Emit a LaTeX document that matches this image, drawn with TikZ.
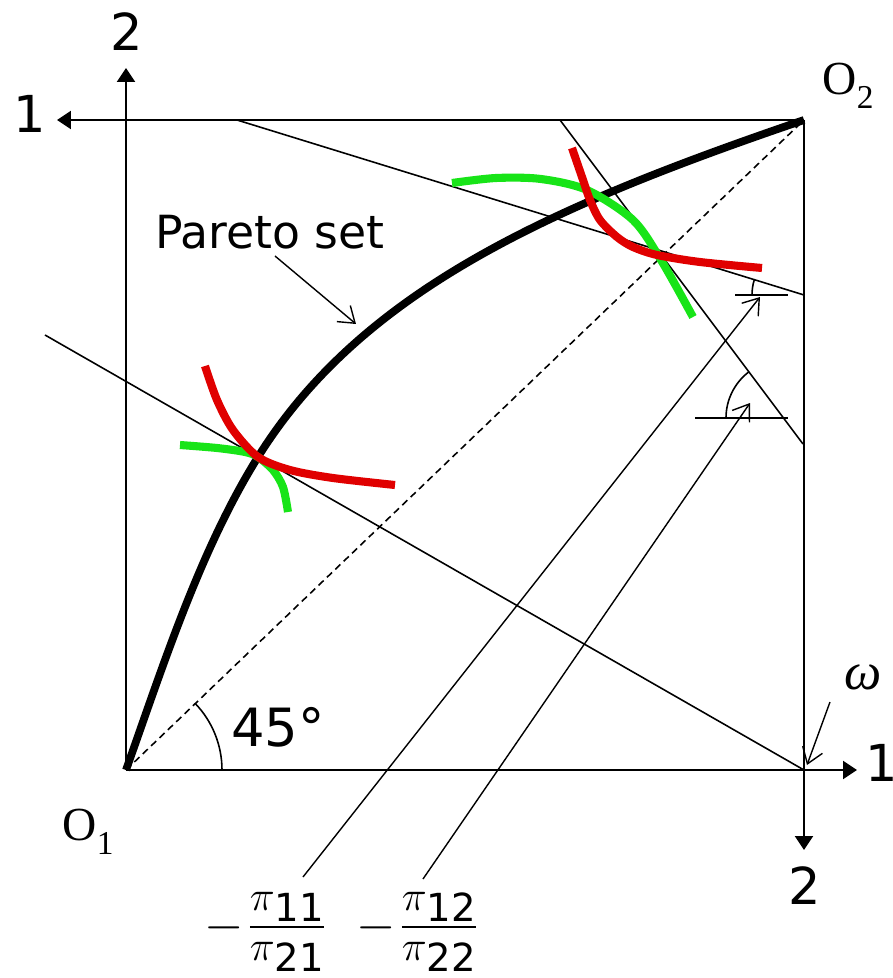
\documentclass[tikz,border=0pt]{standalone}
\usepackage{amsmath}
\usepackage{fontspec}
\setmainfont{DejaVu Sans}
\newfontfamily\timesfont{Liberation Serif}
\usepackage{tikz}
\usetikzlibrary{arrows.meta,positioning}
\definecolor{indRed}{RGB}{224,0,0}
\definecolor{indGreen}{RGB}{24,228,24}
\newcommand{\Olab}[1]{{\timesfont O\raisebox{-4pt}{\fontsize{9.5}{10}\selectfont #1}}}
\newcommand{\pinum}{\raisebox{3.1pt}{\fontsize{12.5}{12.5}\selectfont$\pi$}}
\newcommand{\pricefrac}[2]{\raisebox{-1pt}{\fontsize{15}{15}\selectfont$-$}\kern0.6pt$\frac{\mbox{\pinum#1}}{\smash{\raisebox{-6.2pt}{\pinum#2}}}$}

\begin{document}
\begin{tikzpicture}[x=1.0cm,y=1.0cm,
  axis/.style={line width=0.7pt,-{Triangle[length=1.4mm,width=1.8mm]}},
  budget/.style={line width=0.45pt},
  pointer/.style={line width=0.4pt,-{Straight Barb[length=1.5mm,width=2.1mm]}},
  indiff/.style={line width=2.3pt},
  axlab/.style={inner sep=0pt,font=\fontsize{14.5}{16}\selectfont},
  fraclab/.style={inner sep=0pt,anchor=base west,font=\fontsize{11}{13}\selectfont}]
\useasboundingbox (-1.26,-2.08) rectangle (7.67,7.70);

\coordinate (O1) at (0,0);
\coordinate (O2) at (6.78,6.50);
\coordinate (W) at (6.78,0);
\coordinate (t2a) at (0,7.02);
\coordinate (t1a) at (-0.69,6.50);
\coordinate (t1b) at (7.31,0);
\coordinate (t2b) at (6.78,-0.80);

% the two consumers' axes (the box)
\foreach \from/\to in {O1/t2a,O2/t1a,O1/t1b,O2/t2b}
  \draw[axis] (\from) -- (\to);
\node[axlab] (l2a) at (0.01,7.38) {2};
\node[axlab] (l1a) at (-0.96,6.56) {1};
\node[axlab] (l1b) at (7.56,0.07) {1};
\node[axlab] (l2b) at (6.79,-1.16) {2};
\node[inner sep=0pt,font=\fontsize{13.5}{15}\selectfont] (lO1) at (-0.38,-0.62) {\Olab{1}};
\node[inner sep=0pt,font=\fontsize{13.5}{15}\selectfont] (lO2) at (7.22,6.84) {\Olab{2}};

% diagonal and 45 degree mark
\draw[line width=0.45pt,dash pattern=on 2pt off 1.3pt] (O1) -- (O2);
\draw[line width=0.45pt] (0.96,0) arc[start angle=0,end angle=44,radius=0.96];
\node[inner sep=0pt,font=\fontsize{15}{17}\selectfont] (l45) at (1.52,0.43) {45°};

% price lines
\coordinate (b1s) at (-0.81,4.35);
\coordinate (b2s) at (1.11,6.50);
\coordinate (b2e) at (6.78,4.75);
\coordinate (b3s) at (4.34,6.50);
\coordinate (b3e) at (6.77,3.26);
\draw[budget] (b1s) -- (W);
\draw[budget] (b2s) -- (b2e);
\draw[budget] (b3s) -- (b3e);

% angle marks at the right edge
\coordinate (m1) at (6.34,4.73);
\coordinate (m2) at (6.24,3.67);
\draw[budget] (6.09,4.75) -- (6.62,4.75);
\draw[budget] (6.26,4.75) arc[start angle=180,end angle=163,radius=0.52];
\draw[budget] (5.69,3.52) -- (6.62,3.52);
\draw[budget] (6.00,3.52) arc[start angle=180,end angle=127,radius=0.58];

% Pareto set
\coordinate (T1) at (1.32,3.13);
\draw[line width=2.2pt] (O1) .. controls (0.37,1.04) and (0.74,2.20) .. (T1)
  .. controls (2.38,4.83) and (4.32,5.66) .. (O2);

% indifference curves
\draw[indiff,indGreen] plot[smooth] coordinates {(0.54,3.25) (0.91,3.22) (1.19,3.18) (T1) (1.47,3.00) (1.57,2.83) (1.62,2.58)};
\draw[indiff,indRed] plot[smooth] coordinates {(0.79,4.04) (0.91,3.70) (1.07,3.40) (T1) (1.64,3.00) (2.07,2.92) (2.69,2.85)};
\draw[indiff,indGreen] plot[smooth] coordinates {(3.26,5.87) (3.70,5.92) (4.15,5.91) (4.61,5.80) (5.07,5.50) (5.35,5.10) (5.67,4.53)};
\draw[indiff,indRed] plot[smooth] coordinates {(4.46,6.22) (4.56,5.93) (4.64,5.70) (4.74,5.50) (4.91,5.33) (5.07,5.23) (5.31,5.15) (5.74,5.08) (6.36,5.02)};

% labels and pointers
\node[inner sep=0pt,font=\fontsize{13}{15}\selectfont] (lpar) at (1.44,5.38) {Pareto set};
\coordinate (p1) at (1.49,5.14);
\coordinate (p2) at (2.30,4.46);
\draw[pointer] (p1) -- (p2);

\node[inner sep=0pt,font=\fontsize{15}{17}\selectfont] (lw) at (7.37,0.93) {\timesfont\itshape ω};
\coordinate (w1) at (7.04,0.68);
\coordinate (w2) at (6.81,0.05);
\draw[pointer] (w1) -- (w2);

\node[fraclab] (f1) at (0.776,-1.667) {\pricefrac{11}{21}};
\node[fraclab] (f2) at (2.296,-1.667) {\pricefrac{12}{22}};
\coordinate (f1top) at (1.77,-1.07);
\coordinate (f2top) at (2.97,-1.09);
\draw[pointer] (f1top) -- (m1);
\draw[pointer] (f2top) -- (m2);
\end{tikzpicture}
\end{document}
